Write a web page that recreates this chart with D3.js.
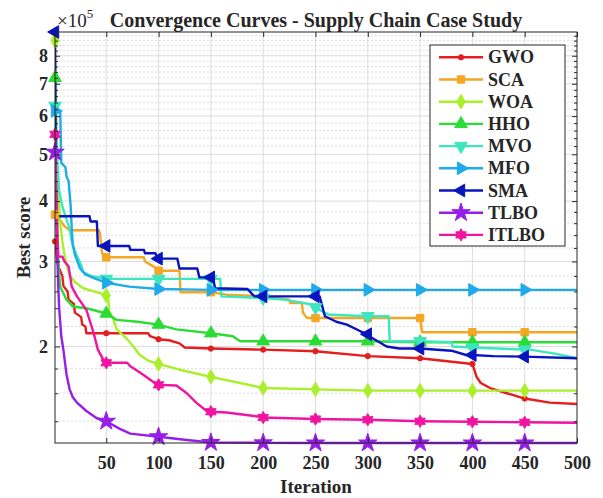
<!DOCTYPE html>
<html>
<head>
<meta charset="utf-8">
<script src="https://cdn.jsdelivr.net/npm/d3@7"></script>
<style>
  body { margin: 0; background: #fff; }
  svg text { font-family: "Liberation Serif", "Times New Roman", serif; fill: #262626; }
  .axis path, .axis line { stroke: #262626; }
  .axis text { font-weight: bold; font-size: 18px; }
</style>
</head>
<body>
<svg id="chart" width="603" height="498"></svg>
<script>
// best score per iteration, in units of 1e5 as [iteration, value]
const gwo = [[1,3.3],[2,3.15],[3,3.0],[5,2.9],[8,2.8],[9,2.67],[13,2.6],[14,2.5],[19,2.45],[20,2.35],[26,2.3],[27,2.22],[30,2.2],[31,2.13],[50,2.13],[90,2.13],[92,2.1],[100,2.07],[110,2.06],[120,2.03],[125,1.99],[150,1.98],[200,1.97],[250,1.955],[300,1.91],[350,1.89],[400,1.84],[404,1.73],[408,1.68],[417,1.64],[433,1.6],[450,1.56],[474,1.53],[500,1.52]];
const sca = [[1,3.75],[3,3.7],[6,3.65],[10,3.55],[15,3.48],[43,3.48],[44,3.42],[46,3.12],[48,3.06],[50,3.06],[86,3.06],[87,3.0],[95,2.93],[100,2.87],[120,2.87],[121,2.59],[150,2.59],[165,2.56],[200,2.54],[225,2.5],[226,2.46],[237,2.46],[238,2.35],[242,2.29],[250,2.29],[300,2.29],[350,2.29],[352,2.14],[400,2.14],[450,2.14],[500,2.14]];
const woa = [[1,8.6],[2,6.5],[3,5.0],[4,4.2],[6,3.6],[8,3.3],[10,3.1],[13,2.9],[15,2.81],[20,2.72],[28,2.64],[44,2.58],[50,2.55],[52,2.5],[53,2.36],[56,2.3],[60,2.17],[70,2.07],[76,2.0],[82,1.92],[90,1.87],[100,1.84],[120,1.79],[150,1.73],[178,1.68],[200,1.64],[250,1.63],[300,1.62],[350,1.62],[400,1.62],[450,1.62],[500,1.62]];
const hho = [[1,7.2],[2,5.0],[3,3.8],[4,3.1],[5,2.8],[6,2.66],[12,2.5],[18,2.42],[31,2.4],[44,2.36],[50,2.34],[60,2.27],[80,2.25],[100,2.22],[117,2.17],[150,2.13],[171,2.1],[178,2.05],[200,2.05],[250,2.05],[300,2.05],[350,2.04],[400,2.04],[450,2.04],[500,2.04]];
const mvo = [[1,6.3],[3,5.0],[5,4.2],[8,3.9],[15,3.5],[17,3.3],[20,3.15],[26,2.95],[28,2.85],[35,2.8],[50,2.76],[100,2.76],[150,2.76],[159,2.76],[160,2.54],[200,2.52],[220,2.5],[248,2.44],[250,2.41],[257,2.36],[262,2.33],[300,2.31],[320,2.31],[321,2.05],[350,2.05],[380,2.04],[381,2.0],[400,1.99],[450,1.97],[455,1.97],[480,1.93],[500,1.89]];
const mfo = [[1,6.15],[6,6.15],[7,4.8],[11,4.7],[12,4.5],[14,4.4],[16,3.9],[17,3.5],[18,3.25],[20,3.1],[25,2.9],[30,2.82],[40,2.76],[50,2.71],[72,2.66],[100,2.63],[150,2.62],[200,2.62],[250,2.62],[300,2.62],[350,2.62],[400,2.62],[450,2.62],[500,2.62]];
const sma = [[1,8.96],[2,3.72],[34,3.72],[35,3.63],[41,3.63],[42,3.23],[50,3.23],[72,3.23],[73,3.17],[86,3.17],[87,3.12],[97,3.12],[99,3.04],[100,3.04],[118,3.04],[120,2.9],[137,2.9],[139,2.78],[150,2.78],[152,2.78],[154,2.64],[185,2.63],[190,2.56],[192,2.54],[200,2.54],[250,2.54],[254,2.54],[259,2.31],[270,2.25],[280,2.22],[293,2.15],[300,2.12],[303,2.09],[318,2.0],[330,1.98],[350,1.98],[380,1.96],[394,1.92],[400,1.92],[420,1.91],[450,1.905],[500,1.89]];
const tlbo = [[1,5.05],[2,4.0],[3,3.2],[4,2.7],[5,2.4],[7,2.1],[9,1.97],[12,1.75],[15,1.63],[18,1.57],[22,1.53],[31,1.47],[41,1.42],[50,1.4],[63,1.35],[73,1.32],[100,1.3],[127,1.28],[150,1.265],[200,1.263],[250,1.262],[300,1.262],[350,1.262],[400,1.262],[450,1.262],[500,1.262]];
const itlbo = [[1,5.5],[2,4.2],[3,3.5],[4,3.07],[8,3.07],[10,3.0],[14,2.93],[17,2.66],[22,2.54],[31,2.38],[38,2.13],[42,1.97],[47,1.88],[50,1.85],[70,1.85],[73,1.82],[85,1.75],[98,1.67],[100,1.665],[117,1.66],[127,1.6],[136,1.53],[146,1.47],[150,1.465],[165,1.46],[197,1.43],[200,1.425],[250,1.415],[300,1.41],[350,1.4],[400,1.397],[450,1.393],[500,1.39]];

const names = ['GWO', 'SCA', 'WOA', 'HHO', 'MVO', 'MFO', 'SMA', 'TLBO', 'ITLBO'];
const seriesData = [gwo, sca, woa, hho, mvo, mfo, sma, tlbo, itlbo];
const colors = ['#e41e1e', '#f5a623', '#aaf02a', '#2cdc36', '#3ce6be', '#1eaaeb', '#0a14be', '#961ee6', '#f014a0'];

const xTicks = [50, 100, 150, 200, 250, 300, 350, 400, 450, 500];
const yTicks = [2, 3, 4, 5, 6, 7, 8];
const yMinor = [1.4, 1.6, 1.8, 2.2, 2.4, 2.6, 2.8, 3.2, 3.4, 3.6, 3.8, 4.2, 4.4, 4.6, 4.8,
  5.2, 5.4, 5.6, 5.8, 6.2, 6.4, 6.6, 6.8, 7.2, 7.4, 7.6, 7.8, 8.2, 8.4, 8.6, 8.8];
const markerIter = [1, 50, 100, 150, 200, 250, 300, 350, 400, 450];

const svg = d3.select('#chart'),
  pLeft = 55, pRight = 577, pTop = 32, pBottom = 443;

const allValues = seriesData.flat().map(d => d[1]);
const x = d3.scaleLinear().domain([1, 500]).range([pLeft, pRight]);
const y = d3.scaleLog().domain([d3.min(allValues), d3.max(allValues)]).range([pBottom, pTop]);

// hexagram marker for ITLBO
const symbolHexagram = {
  draw(ctx, size) {
    const r = Math.sqrt(size / 1.6), ri = r / Math.sqrt(3);
    for (let i = 0; i < 12; i++) {
      const a = Math.PI * i / 6 - Math.PI / 2, rr = i % 2 ? ri : r;
      if (i === 0) ctx.moveTo(rr * Math.cos(a), rr * Math.sin(a));
      else ctx.lineTo(rr * Math.cos(a), rr * Math.sin(a));
    }
    ctx.closePath();
  }
};

const markers = [
  { type: d3.symbolCircle, size: 22, rot: 0 },
  { type: d3.symbolSquare, size: 55, rot: 0 },
  { type: d3.symbolDiamond, size: 60, rot: 0 },
  { type: d3.symbolTriangle, size: 70, rot: 0 },
  { type: d3.symbolTriangle, size: 70, rot: 180 },
  { type: d3.symbolTriangle, size: 70, rot: 90 },
  { type: d3.symbolTriangle, size: 70, rot: -90 },
  { type: d3.symbolStar, size: 105, rot: 0 },
  { type: symbolHexagram, size: 60, rot: 0 }
];

// grid
const grid = svg.append('g');
grid.selectAll('.minor').data(yMinor.filter(v => v > y.domain()[0] && v < y.domain()[1]))
  .enter().append('line')
  .attr('x1', pLeft).attr('x2', pRight)
  .attr('y1', d => y(d)).attr('y2', d => y(d))
  .attr('stroke', '#cfcfcf').attr('stroke-width', 0.7).attr('stroke-dasharray', '2,2');
grid.selectAll('.ymaj').data(yTicks).enter().append('line')
  .attr('x1', pLeft).attr('x2', pRight)
  .attr('y1', d => y(d)).attr('y2', d => y(d))
  .attr('stroke', '#d8d8d8').attr('stroke-width', 0.9);
grid.selectAll('.xmaj').data(xTicks.slice(0, -1)).enter().append('line')
  .attr('y1', pTop).attr('y2', pBottom)
  .attr('x1', d => x(d)).attr('x2', d => x(d))
  .attr('stroke', '#d8d8d8').attr('stroke-width', 0.9);

svg.append('clipPath').attr('id', 'plot-clip')
  .append('rect').attr('x', pLeft).attr('y', pTop - 2).attr('width', pRight - pLeft).attr('height', pBottom - pTop + 4);

const line = d3.line().x(d => x(d[0])).y(d => y(d[1]));
const plot = svg.append('g').attr('clip-path', 'url(#plot-clip)');

seriesData.forEach((data, i) => {
  plot.append('path').datum(data)
    .attr('d', line)
    .attr('fill', 'none')
    .attr('stroke', colors[i])
    .attr('stroke-width', 2.4)
    .attr('stroke-linejoin', 'round');
  const sym = d3.symbol().type(markers[i].type).size(markers[i].size);
  svg.append('g').selectAll('path')
    .data(data.filter(d => markerIter.includes(d[0])))
    .enter().append('path')
    .attr('d', sym)
    .attr('transform', d => `translate(${x(d[0])},${y(d[1])}) rotate(${markers[i].rot})`)
    .attr('fill', colors[i])
    .attr('stroke', colors[i])
    .attr('stroke-width', 1);
});

// axes with inward ticks
const axes = svg.append('g');
axes.append('g').attr('class', 'axis').attr('transform', `translate(0,${pBottom})`)
  .call(d3.axisBottom(x).tickValues(xTicks).tickSize(-5).tickPadding(13).tickSizeOuter(0));
axes.append('g').attr('class', 'axis').attr('transform', `translate(0,${pTop})`)
  .call(d3.axisTop(x).tickValues(xTicks).tickSize(-5).tickFormat('').tickSizeOuter(0));
axes.append('g').attr('class', 'axis').attr('transform', `translate(${pLeft},0)`)
  .call(d3.axisLeft(y).tickValues(yTicks).tickFormat(d3.format('d')).tickSize(-5).tickPadding(7).tickSizeOuter(0));
axes.append('g').attr('class', 'axis').attr('transform', `translate(${pLeft},0)`)
  .call(d3.axisLeft(y).tickValues(yMinor).tickFormat('').tickSize(-3).tickSizeOuter(0));
axes.append('g').attr('class', 'axis').attr('transform', `translate(${pRight},0)`)
  .call(d3.axisRight(y).tickValues(yTicks).tickFormat('').tickSize(-5).tickSizeOuter(0));
axes.append('g').attr('class', 'axis').attr('transform', `translate(${pRight},0)`)
  .call(d3.axisRight(y).tickValues(yMinor).tickFormat('').tickSize(-3).tickSizeOuter(0));
axes.selectAll('.domain').remove();
axes.append('rect')
  .attr('x', pLeft).attr('y', pTop).attr('width', pRight - pLeft).attr('height', pBottom - pTop)
  .attr('fill', 'none').attr('stroke', '#262626').attr('stroke-width', 1);

// exponent label
const expo = svg.append('text').attr('x', 57).attr('y', 27).style('font-size', '19px');
expo.append('tspan').text('\u00d710');
expo.append('tspan').attr('dy', -9).style('font-size', '13px').text('5');

// title and axis labels
svg.append('text').attr('x', (pLeft + pRight) / 2).attr('y', 27)
  .attr('text-anchor', 'middle').style('font-weight', 'bold').style('font-size', '20px')
  .text('Convergence Curves - Supply Chain Case Study');
svg.append('text').attr('x', (pLeft + pRight) / 2).attr('y', 493)
  .attr('text-anchor', 'middle').style('font-weight', 'bold').style('font-size', '19px')
  .text('Iteration');
svg.append('text').attr('transform', `translate(30,${(pTop + pBottom) / 2}) rotate(-90)`)
  .attr('text-anchor', 'middle').style('font-weight', 'bold').style('font-size', '19px')
  .text('Best score');

// legend
const legend = svg.append('g');
legend.append('rect').attr('x', 430).attr('y', 45).attr('width', 135).attr('height', 201)
  .attr('fill', '#fff').attr('stroke', '#262626').attr('stroke-width', 1);
names.forEach((name, i) => {
  const ly = 57.3 + i * 22.2;
  legend.append('line').attr('x1', 439).attr('x2', 483).attr('y1', ly).attr('y2', ly)
    .attr('stroke', colors[i]).attr('stroke-width', 2.4);
  legend.append('path')
    .attr('d', d3.symbol().type(markers[i].type).size(markers[i].size)())
    .attr('transform', `translate(461,${ly}) rotate(${markers[i].rot})`)
    .attr('fill', colors[i]).attr('stroke', colors[i]);
  legend.append('text').attr('x', 488).attr('y', ly + 6)
    .style('font-weight', 'bold').style('font-size', '18px').text(name);
});
</script>
</body>
</html>
